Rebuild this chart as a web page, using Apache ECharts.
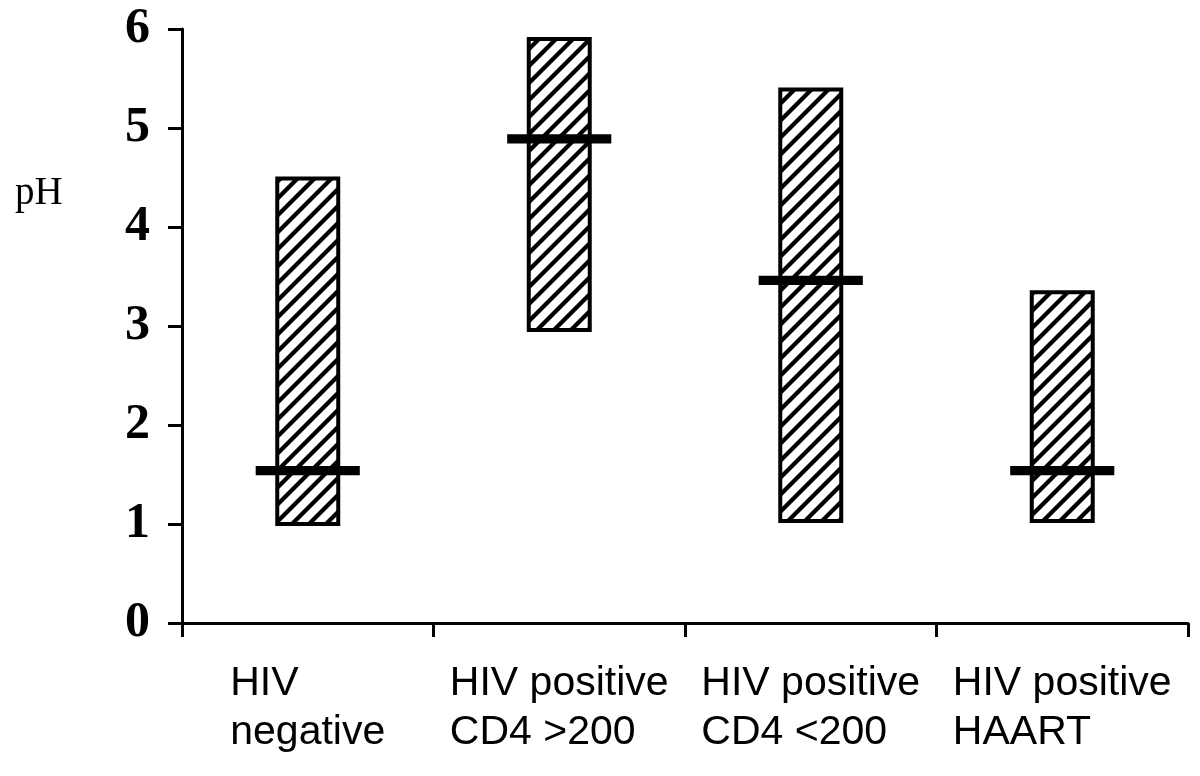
<!DOCTYPE html>
<html>
<head>
<meta charset="utf-8">
<script src="https://cdn.jsdelivr.net/npm/echarts@6/dist/echarts.min.js"></script>
<style>html,body{margin:0;padding:0;background:#fff}#c{width:1200px;height:776px}</style>
</head>
<body>
<div id="c"></div>
<script>
// Data
var categories = [['HIV', 'negative'], ['HIV positive', 'CD4 >200'], ['HIV positive', 'CD4 <200'], ['HIV positive', 'HAART']];
var lows = [1.0, 2.96, 1.03, 1.03];
var highs = [4.49, 5.9, 5.39, 3.34];
var medians = [1.54, 4.89, 3.46, 1.54];
var yTicks = [0, 1, 2, 3, 4, 5, 6];

// hatch pattern tile
var tile = document.createElement('canvas');
tile.width = 17; tile.height = 17;
var g = tile.getContext('2d');
g.fillStyle = '#fff'; g.fillRect(0, 0, 17, 17);
g.strokeStyle = '#000'; g.lineWidth = 4.2; g.lineCap = 'square';
[-17, 0, 17].forEach(function (k) {
  g.beginPath(); g.moveTo(k, 17); g.lineTo(k + 17, 0); g.stroke();
});

var seriesData = categories.map(function (c, i) { return [i, lows[i], highs[i], medians[i]]; });
var labelNames = categories.map(function (c) { return c.join('\n'); });

var chart = echarts.init(document.getElementById('c'));
chart.setOption({
  animation: false,
  backgroundColor: '#fff',
  title: {
    text: 'pH', left: 10, top: 169,
    textStyle: { fontFamily: 'Liberation Serif', fontWeight: 'normal', fontSize: 39, color: '#000' }
  },
  grid: { left: 182, right: 12, top: 29, bottom: 153 },
  xAxis: {
    type: 'category',
    data: labelNames,
    boundaryGap: true,
    axisLine: { lineStyle: { color: '#000', width: 3 } },
    axisTick: { show: true, length: 14, lineStyle: { color: '#000', width: 3 } },
    axisLabel: {
      interval: 0, margin: 36,
      formatter: function (v) {
        return v.split('\n').map(function (l) { return '{a|' + l + '}'; }).join('\n');
      },
      rich: { a: { align: 'left', fontFamily: 'Liberation Sans', fontSize: 41, lineHeight: 49, color: '#000' } }
    },
    splitLine: { show: false }
  },
  yAxis: {
    type: 'value', min: yTicks[0], max: yTicks[yTicks.length - 1], interval: 1,
    axisLine: { show: true, lineStyle: { color: '#000', width: 3 } },
    axisTick: { show: true, length: 14, lineStyle: { color: '#000', width: 3 } },
    axisLabel: { margin: 32, fontFamily: 'Liberation Serif', fontWeight: 'bold', fontSize: 50, color: '#000' },
    splitLine: { show: false }
  },
  series: [{
    type: 'custom',
    data: seriesData,
    encode: { x: 0, y: [1, 2, 3] },
    renderItem: function (params, api) {
      var i = api.value(0);
      var lo = api.coord([i, api.value(1)]);
      var hi = api.coord([i, api.value(2)]);
      var md = api.coord([i, api.value(3)]);
      var band = api.size([1, 0])[0];
      var bw = band * 0.2425;
      var mw = band * 0.414;
      return {
        type: 'group',
        children: [{
          type: 'rect',
          shape: { x: lo[0] - bw / 2, y: hi[1], width: bw, height: lo[1] - hi[1] },
          style: { fill: { image: tile, repeat: 'repeat' }, stroke: '#000', lineWidth: 4 }
        }, {
          type: 'rect',
          shape: { x: md[0] - mw / 2, y: md[1] - 4.6, width: mw, height: 9.2 },
          style: { fill: '#000' }
        }]
      };
    }
  }]
});
</script>
</body>
</html>
